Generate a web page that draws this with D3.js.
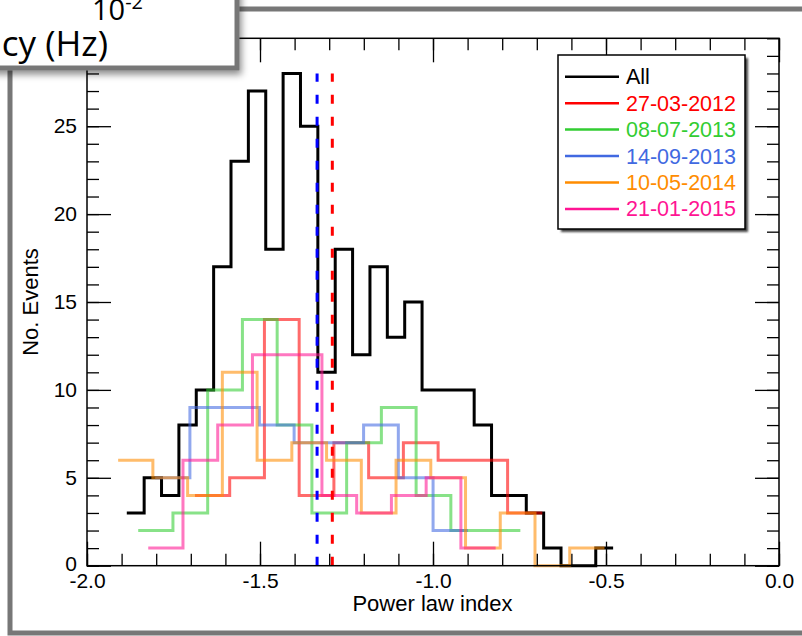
<!DOCTYPE html>
<html>
<head>
<meta charset="utf-8">
<script src="https://cdn.jsdelivr.net/npm/d3@7"></script>
<style>
  html, body { margin: 0; padding: 0; background: #fff; }
  svg { display: block; }
</style>
</head>
<body>
<svg id="chart" width="802" height="636"></svg>
<script>
// ---------------- data ----------------
const seriesNames = ["All", "27-03-2012", "08-07-2013", "14-09-2013", "10-05-2014", "21-01-2015"];
const seriesColors = ["#000000", "#ff0000", "#32cd32", "#4169e1", "#ff8c00", "#ff1493"];

// histogram bin starts (left edge of first bin) and bin widths
const binStarts = [-1.885, -1.688, -1.852, -1.803, -1.910, -1.823];
const binWidths = [0.0502, 0.1004, 0.1004, 0.1004, 0.1004, 0.1004];

const countsAll  = [3, 5, 4, 8, 10, 17, 23, 27, 18, 28, 25, 11, 18, 12, 17, 13, 15, 10, 10, 10, 8, 4, 4, 3, 1, 0, 0, 1];
const counts2012 = [4, 5, 14, 4, 7, 5, 7, 6, 6, 3];
const counts2013a = [2, 3, 10, 14, 8, 3, 7, 9, 4, 2, 2];
const counts2013b = [5, 9, 9, 8, 7, 7, 8, 5, 2];
const counts2014 = [6, 5, 4, 11, 6, 7, 6, 3, 6, 5, 1, 3, 0, 1];
const counts2015 = [1, 6, 8, 12, 12, 4, 3, 4, 5, 1];
const seriesCounts = [countsAll, counts2012, counts2013a, counts2013b, counts2014, counts2015];

// mean indices (dashed lines)
const meanLines = [-1.335, -1.291];
const meanColors = ["#0000ff", "#ff0000"];
const meanTop = 28;

const xMajorTicks = [-2.0, -1.5, -1.0, -0.5, 0.0];
const yMajorTicks = [0, 5, 10, 15, 20, 25];
const xTitle = "Power law index";
const yTitle = "No. Events";

// ---------------- layout ----------------
const svg = d3.select("#chart");
const pL = 87, pR = 779, pT = 38.3, pB = 565.7;
const x = d3.scaleLinear().domain([-2, 0]).range([pL, pR]);
const y = d3.scaleLinear().domain([0, 30]).range([pB, pT]);
const FONT = "'Liberation Sans', Arial, Helvetica, sans-serif";

const defs = svg.append("defs");
const sh = defs.append("filter").attr("id", "shadow").attr("x", "-20%").attr("y", "-20%").attr("width", "150%").attr("height", "160%");
sh.append("feDropShadow").attr("dx", 2).attr("dy", 4).attr("stdDeviation", 3.5).attr("flood-color", "#000").attr("flood-opacity", 0.45);
const lsh = defs.append("filter").attr("id", "lshadow").attr("x", "-10%").attr("y", "-10%").attr("width", "130%").attr("height", "130%");
lsh.append("feGaussianBlur").attr("stdDeviation", 1.2);

// outer slide frame
const frame = svg.append("g");
frame.append("path")
  .attr("d", "M10,70 L10,633 L810,633")
  .attr("fill", "none").attr("stroke", "#777").attr("stroke-width", 5);
frame.append("path")
  .attr("d", "M230,9 L810,9")
  .attr("fill", "none").attr("stroke", "#777").attr("stroke-width", 5);

// ---------------- histograms ----------------
const stepLine = d3.line().x(d => x(d[0])).y(d => y(d[1])).curve(d3.curveStepAfter);
function stepPoints(start, width, counts) {
  const pts = counts.map((c, i) => [start + i * width, c]);
  pts.push([start + counts.length * width, counts[counts.length - 1]]);
  return pts;
}

const plot = svg.append("g");
seriesCounts.forEach((counts, i) => {
  plot.append("path")
    .attr("d", stepLine(stepPoints(binStarts[i], binWidths[i], counts)))
    .attr("fill", "none")
    .attr("stroke", seriesColors[i])
    .attr("stroke-width", 3)
    .attr("stroke-opacity", i === 0 ? 1 : 0.58)
    .attr("stroke-linejoin", "miter");
});

// mean lines
meanLines.forEach((m, i) => {
  plot.append("line")
    .attr("x1", x(m)).attr("x2", x(m))
    .attr("y1", y(0)).attr("y2", y(meanTop))
    .attr("stroke", meanColors[i]).attr("stroke-width", 3)
    .attr("stroke-dasharray", "9,13");
});

// ---------------- axes ----------------
const fmt = d => d.toFixed(1);
function styleAxis(g) {
  g.select(".domain").remove();
  g.selectAll("line").attr("stroke", "#000").attr("stroke-width", 1.3);
  g.selectAll("text").attr("font-family", FONT).attr("font-size", 21).attr("fill", "#000");
}
const xMinor = d3.range(0, 21).map(i => -2 + i * 0.1);
const yMinor = d3.range(0, 31);

svg.append("g").attr("transform", `translate(0,${pB})`)
  .call(d3.axisBottom(x).tickValues(xMinor).tickSize(-12).tickFormat("")).call(styleAxis);
svg.append("g").attr("transform", `translate(0,${pB})`)
  .call(d3.axisBottom(x).tickValues(xMajorTicks).tickSize(-24).tickPadding(7).tickFormat(fmt)).call(styleAxis);
svg.append("g").attr("transform", `translate(0,${pT})`)
  .call(d3.axisTop(x).tickValues(xMinor).tickSize(-12).tickFormat("")).call(styleAxis);
svg.append("g").attr("transform", `translate(0,${pT})`)
  .call(d3.axisTop(x).tickValues(xMajorTicks).tickSize(-24).tickFormat("")).call(styleAxis);

const yAxG = svg.append("g").attr("transform", `translate(${pL},0)`)
  .call(d3.axisLeft(y).tickValues(yMajorTicks).tickSize(-24).tickPadding(10).tickFormat(d3.format("d"))).call(styleAxis);
yAxG.selectAll(".tick").filter(d => d === 0).select("text").attr("dy", "0.22em");
svg.append("g").attr("transform", `translate(${pL},0)`)
  .call(d3.axisLeft(y).tickValues(yMinor).tickSize(-12).tickFormat("")).call(styleAxis);
svg.append("g").attr("transform", `translate(${pR},0)`)
  .call(d3.axisRight(y).tickValues(yMinor).tickSize(-12).tickFormat("")).call(styleAxis);
svg.append("g").attr("transform", `translate(${pR},0)`)
  .call(d3.axisRight(y).tickValues(yMajorTicks).tickSize(-24).tickFormat("")).call(styleAxis);

svg.append("rect")
  .attr("x", pL).attr("y", pT).attr("width", pR - pL).attr("height", pB - pT)
  .attr("fill", "none").attr("stroke", "#000").attr("stroke-width", 1.5);

svg.append("text")
  .attr("x", (pL + pR) / 2 - 0.5).attr("y", 611)
  .attr("text-anchor", "middle").attr("font-family", FONT).attr("font-size", 22)
  .text(xTitle);
svg.append("text")
  .attr("transform", `translate(38,${(pT + pB) / 2}) rotate(-90)`)
  .attr("text-anchor", "middle").attr("font-family", FONT).attr("font-size", 22)
  .text(yTitle);

// ---------------- legend ----------------
const lg = svg.append("g");
const lx = 558, ly = 55, lw = 187, lh = 174;
lg.append("rect").attr("x", lx + 3).attr("y", ly + 3).attr("width", lw).attr("height", lh)
  .attr("fill", "#444").attr("filter", "url(#lshadow)");
lg.append("rect").attr("x", lx).attr("y", ly).attr("width", lw).attr("height", lh)
  .attr("fill", "#fff").attr("stroke", "#000").attr("stroke-width", 1.5);
seriesNames.forEach((name, i) => {
  const cy = 76.7 + i * 26.45;
  lg.append("line").attr("x1", 565).attr("x2", 619).attr("y1", cy).attr("y2", cy)
    .attr("stroke", seriesColors[i]).attr("stroke-width", 2.5);
  lg.append("text").attr("x", 626).attr("y", cy + 7.5)
    .attr("font-family", FONT).attr("font-size", 21.5).attr("fill", seriesColors[i])
    .text(name);
});

// ---------------- overlapping slide box (top-left) ----------------
const box = svg.append("g");
box.append("rect").attr("x", -20).attr("y", -20).attr("width", 257).attr("height", 88)
  .attr("fill", "#fff").attr("stroke", "#777").attr("stroke-width", 5)
  .attr("filter", "url(#shadow)");
const bt = box.append("text").attr("x", 92).attr("y", 20)
  .attr("font-family", "'Open Sans', 'Noto Sans', sans-serif").attr("font-size", 29).attr("fill", "#000");
bt.append("tspan").text("10");
bt.append("tspan").attr("font-size", 20).attr("dy", -11).text("-2");
box.append("text").attr("x", 108).attr("y", 56).attr("text-anchor", "end")
  .attr("font-family", "'Open Sans', 'Noto Sans', sans-serif").attr("font-size", 35).attr("fill", "#000")
  .text("cy (Hz)");
</script>
</body>
</html>
